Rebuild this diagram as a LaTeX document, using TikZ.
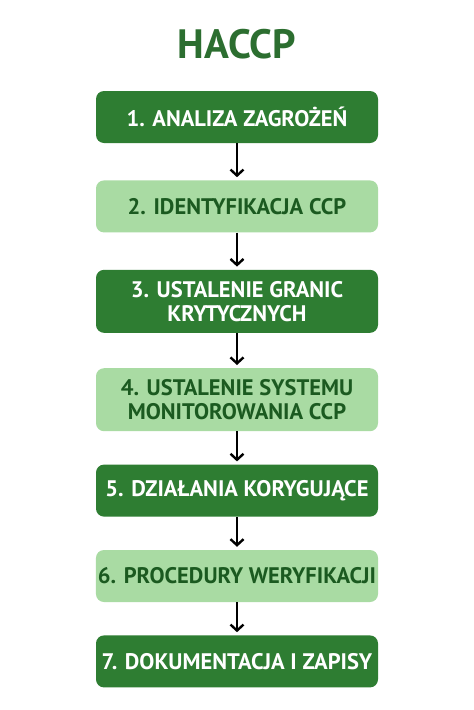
\documentclass[tikz,border=0pt]{standalone}
\usepackage{fontspec}
\setmainfont{PT Sans}
\usetikzlibrary{positioning,arrows.meta}
\definecolor{ciemny}{HTML}{2E7D32}
\definecolor{jasny}{HTML}{A9DBA3}
\definecolor{napis}{HTML}{1B5A20}
\definecolor{tytul}{HTML}{2C6E30}
\tikzset{
  krok/.style={rounded corners=8pt, minimum width=282pt, minimum height=52pt,
    align=center, font=\fontsize{22.5}{24}\selectfont\bfseries, inner sep=2pt},
  ciemnykrok/.style={krok, fill=ciemny, text=white},
  jasnykrok/.style={krok, fill=jasny, text=napis},
  strzalka/.style={-{Straight Barb[length=6pt,width=13pt]}, line width=2.4pt, shorten >=3pt}
}
\begin{document}
\begin{tikzpicture}[x=1pt, y=-1pt, node distance=35pt]
  \useasboundingbox[fill=white] (0,0) rectangle (474,710);
  \node (tytul) at (237,44) [text=tytul, font=\fontsize{41}{44}\selectfont\bfseries] {HACCP};
  \node (k1) at (237,117) [ciemnykrok] {1. ANALIZA ZAGROŻEŃ};
  \node (k2) [jasnykrok, below=37pt of k1] {2. IDENTYFIKACJA CCP};
  \node (k3) [ciemnykrok, below=37pt of k2, minimum height=63pt] {3. USTALENIE GRANIC\\KRYTYCZNYCH};
  \node (k4) [jasnykrok, below=of k3, minimum height=63pt] {4. USTALENIE SYSTEMU\\MONITOROWANIA CCP};
  \node (k5) [ciemnykrok, below=33pt of k4] {5. DZIAŁANIA KORYGUJĄCE};
  \node (k6) [jasnykrok, below=33pt of k5] {6. PROCEDURY WERYFIKACJI};
  \node (k7) [ciemnykrok, below=33pt of k6] {7. DOKUMENTACJA I ZAPISY};
  \foreach \a/\b in {k1/k2,k2/k3,k3/k4,k4/k5,k5/k6,k6/k7}
    \draw[strzalka] (\a) -- (\b);
\end{tikzpicture}
\end{document}
